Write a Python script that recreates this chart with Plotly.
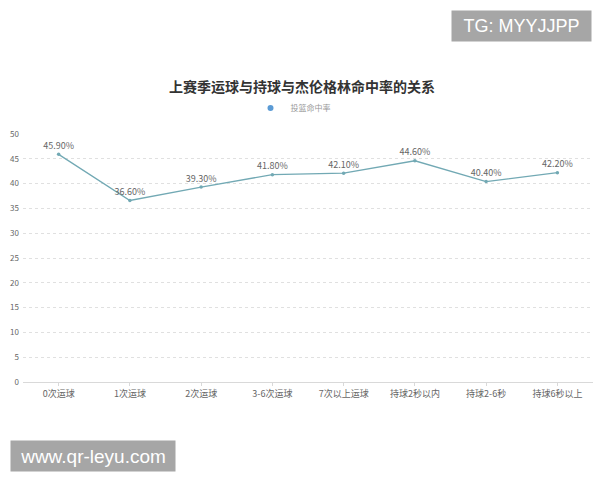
import plotly.graph_objects as go

categories = ['0次运球', '1次运球', '2次运球', '3-6次运球', '7次以上运球', '持球2秒以内', '持球2-6秒', '持球6秒以上']
fg_pct = [45.9, 36.6, 39.3, 41.8, 42.1, 44.6, 40.4, 42.2]
labels = [f'{v:.2f}%' for v in fg_pct]

fig = go.Figure()
fig.add_scatter(
    x=categories, y=fg_pct, name='投篮命中率', showlegend=False,
    mode='lines+markers+text', text=labels, textposition='top center',
    textfont=dict(size=9, color='#666666'),
    line=dict(color='#72a9b4', width=1.3),
    marker=dict(size=3.5, color='#72a9b4'),
)
# legend entry only shows a dot
fig.add_scatter(x=[None], y=[None], name='投篮命中率', mode='markers',
                marker=dict(size=6, color='#5b9bd5'))

fig.update_layout(
    width=600, height=480,
    margin=dict(l=23, r=7, t=134, b=98),
    paper_bgcolor='white', plot_bgcolor='white',
    font=dict(family='Noto Sans CJK SC', color='#666666', size=8),
    title=dict(text='<b>上赛季运球与持球与杰伦格林命中率的关系</b>', x=302 / 600, xanchor='center',
               y=1 - 87 / 480, yanchor='middle', font=dict(size=14, color='#333333')),
    showlegend=True,
    legend=dict(orientation='h', x=(293 - 23) / 570, xanchor='center', y=1 - 108 / 480, yref='container',
                yanchor='middle', font=dict(size=8, color='#999999'), itemwidth=30),
)
fig.update_xaxes(type='category', range=[-0.5, 7.5], showgrid=False, showline=True, automargin=False,
                 linecolor='#d9d9d9', ticks='outside', ticklen=3, tickcolor='#d9d9d9',
                 tickfont=dict(size=9, color='#666666'))
fig.update_yaxes(range=[0, 50], dtick=5, showgrid=True, gridcolor='#e0e0e0', griddash='dot',
                 zeroline=False, automargin=False, tickfont=dict(size=8, color='#666666'),
                 ticklabelstandoff=3)

fig.add_annotation(text='TG: MYYJJPP', xref='paper', yref='paper', x=(451 - 23) / 570, y=1 + (134 - 10) / 248,
                   xanchor='left', yanchor='top', showarrow=False, bgcolor='#a6a6a6',
                   font=dict(family='Liberation Sans', size=18, color='white'), borderpad=0,
                   width=139, height=30, align='center')
fig.add_annotation(text='www.qr-leyu.com', xref='paper', yref='paper', x=(10 - 23) / 570, y=-(440 - 382) / 248,
                   xanchor='left', yanchor='top', showarrow=False, bgcolor='#a6a6a6',
                   font=dict(family='Liberation Sans', size=19, color='white'), borderpad=0,
                   width=164, height=30, align='center')

# drop the default page margin so the figure sits at the window corner
fig.write_html('out.html', config={'displayModeBar': False},
               post_script="document.body.style.margin='0';")
